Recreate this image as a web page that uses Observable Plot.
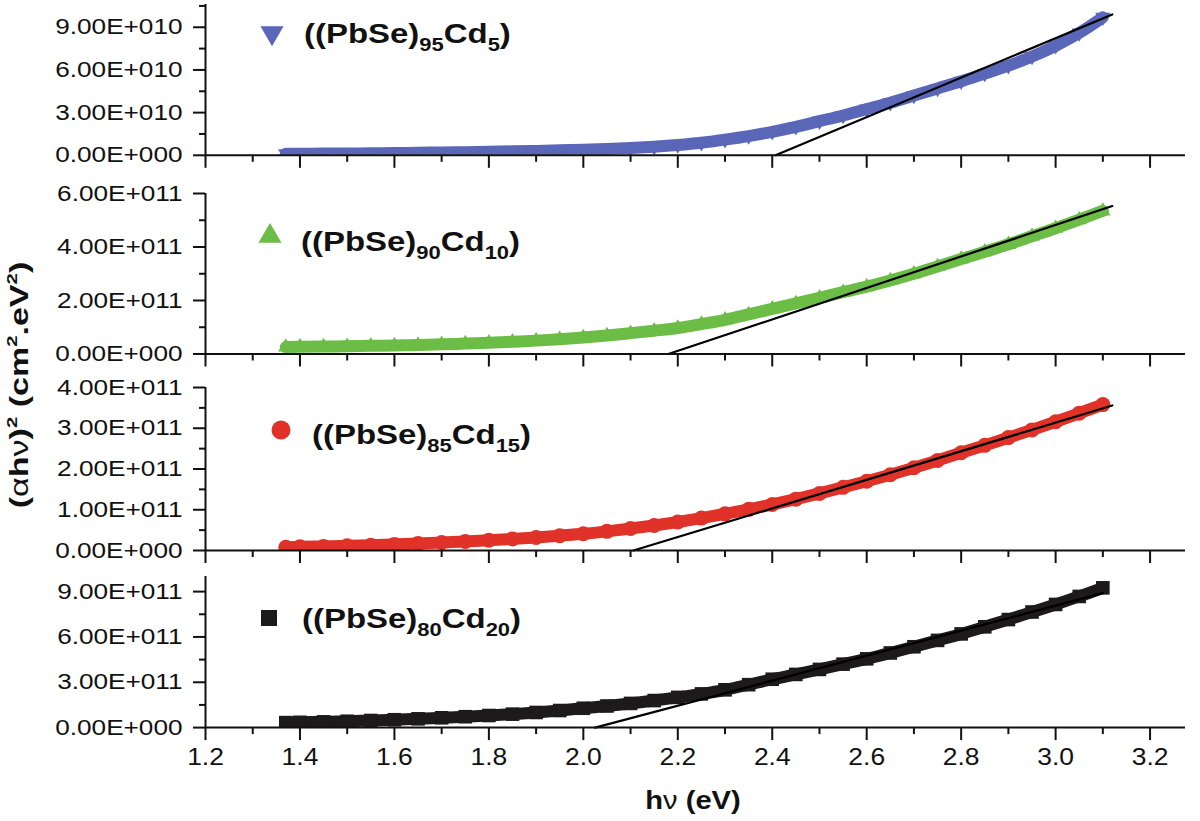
<!DOCTYPE html>
<html><head><meta charset="utf-8">
<script src="https://cdn.jsdelivr.net/npm/d3@7"></script>
<script src="https://cdn.jsdelivr.net/npm/@observablehq/plot@0.6"></script>
<style>
body{margin:0;background:#fff;}
#wrap{position:relative;width:1200px;height:821px;overflow:hidden;font-family:"Liberation Sans",Arial,sans-serif;color:#111;}
.panel{position:absolute;left:0;}
.lsym{position:absolute;}
.ltext{position:absolute;font-weight:bold;font-size:27px;line-height:27px;white-space:nowrap;transform:scaleX(1.22);transform-origin:left center;}
.ltext sub{font-size:18px;line-height:0;vertical-align:-8px;}
.ytitle{position:absolute;left:19px;top:385px;transform:translate(-50%,-50%) rotate(-90deg) scaleX(1.36);font-weight:bold;font-size:25px;white-space:nowrap;}
.ytitle sup{font-size:15px;line-height:0;vertical-align:11px;}
.xtitle{position:absolute;left:693px;top:800px;transform:translate(-50%,-50%) scaleX(1.12);font-weight:bold;font-size:26px;white-space:nowrap;}
.nb{font-weight:normal;}
</style></head><body><div id="wrap"></div><script>
// photon energy hν (eV)
const hv = [1.37,1.40,1.45,1.50,1.55,1.60,1.65,1.70,1.75,1.80,1.85,1.90,1.95,2.00,2.05,2.10,2.15,2.20,2.25,2.30,2.35,2.40,2.45,2.50,2.55,2.60,2.65,2.70,2.75,2.80,2.85,2.90,2.95,3.00,3.05,3.10];
// (αhν)² in units of 1e9 cm^-2 eV^2
const cd5  = [1.0,1.1,1.2,1.3,1.4,1.6,1.8,2.0,2.2,2.5,2.8,3.1,3.5,3.9,4.4,5.1,6.0,7.2,8.8,11.0,13.5,16.5,20.0,24.0,28.0,32.5,37.0,42.0,47.0,52.0,57.5,63.0,69.5,77.0,86.0,97.0];
const cd10 = [26,27,28,29,30.5,32,34,36,39,42,46,50,55.5,62,69.5,78,87,97,112,128,148,169,189,210,231,252,275,300,327,355,382,410,440,470,502,535];
const cd15 = [8,9,10,11.5,13,15,17,19.5,22,25,28.5,32,36.5,41,47,54,61.5,70,79.5,90,101,113,126,140,155,170,186,203,221,240,258,277,296,316,337,358];
const cd20 = [33,35,38,42,47,52,58,65,72,80,89,100,113,128,143,160,179,200,223,250,284,320,352,385,420,455,494,535,577,620,667,715,765,815,868,925];
// linear fits (Tauc extrapolation)
const fitStart = [2.407, 2.18, 2.106, 2.025];
const fitEnd = [3.12, 3.12, 3.12, 3.10];
const fitEndValue = [99, 553, 356, 890];
// axes
const xMajor = [1.2,1.4,1.6,1.8,2.0,2.2,2.4,2.6,2.8,3.0,3.2];
const xMinor = [1.3,1.5,1.7,1.9,2.1,2.3,2.5,2.7,2.9,3.1];
const xLabels = ["1.2","1.4","1.6","1.8","2.0","2.2","2.4","2.6","2.8","3.0","3.2"];
const y1Ticks = [0,30,60,90], y1Minor = [15,45,75,105], y1Labels = ["0.00E+000","3.00E+010","6.00E+010","9.00E+010"];
const y2Ticks = [0,200,400,600], y2Minor = [100,300,500], y2Labels = ["0.00E+000","2.00E+011","4.00E+011","6.00E+011"];
const y3Ticks = [0,100,200,300,400], y3Minor = [50,150,250,350], y3Labels = ["0.00E+000","1.00E+011","2.00E+011","3.00E+011","4.00E+011"];
const y4Ticks = [0,300,600,900], y4Minor = [150,450,750], y4Labels = ["0.00E+000","3.00E+011","6.00E+011","9.00E+011"];
const seriesNames = [["95","5"],["90","10"],["85","15"],["80","20"]];
const colors = ["#5a67b8","#6bbd45","#e03228","#1c1a1a"];

const triDown = {draw(ctx, size){const r=Math.sqrt(size/Math.PI);ctx.moveTo(-1.1*r,-0.65*r);ctx.lineTo(1.1*r,-0.65*r);ctx.lineTo(0,1.25*r);ctx.closePath();}};
const triUp = {draw(ctx, size){const r=Math.sqrt(size/Math.PI);ctx.moveTo(-1.1*r,0.65*r);ctx.lineTo(1.1*r,0.65*r);ctx.lineTo(0,-1.25*r);ctx.closePath();}};
const circ = d3.symbolCircle;
const sq = {draw(ctx, size){const r=Math.sqrt(size/Math.PI);ctx.rect(-r,-r,2*r,2*r);}};

const panels = [
  {vals:cd5,  max:106,  top:4.2,   zero:155, ticks:y1Ticks, minor:y1Minor, labels:y1Labels, sym:triDown, r:7,   lr:10.5, legendSym:{x:272,y:33},  legendText:{x:304,y:34}},
  {vals:cd10, max:600,  top:192.5, zero:353, ticks:y2Ticks, minor:y2Minor, labels:y2Labels, sym:triUp,   r:7,   lr:10.5, legendSym:{x:270,y:236}, legendText:{x:301,y:242}},
  {vals:cd15, max:400,  top:387,   zero:550, ticks:y3Ticks, minor:y3Minor, labels:y3Labels, sym:circ,    r:7.5, lr:9.5,  legendSym:{x:281,y:430}, legendText:{x:312,y:435}},
  {vals:cd20, max:1000, top:575.9, zero:727, ticks:y4Ticks, minor:y4Minor, labels:y4Labels, sym:sq,      r:6.8, lr:8,    legendSym:{x:269,y:618}, legendText:{x:302,y:619}}
];

const wrap = document.getElementById("wrap");
const font = '"Liberation Sans", Arial, sans-serif';

panels.forEach((p, k) => {
  const isBottom = k === 3;
  const rows = hv.map((x, i) => ({hv: x, v: p.vals[i]}));
  const fitRows = [{hv: fitStart[k], v: 0}, {hv: fitEnd[k], v: fitEndValue[k]}];
  const mt = 12, mb = isBottom ? 94 : 16;
  const lab = new Map(p.ticks.map((t, i) => [t, p.labels[i]]));
  const xl = new Map(xMajor.map((t, i) => [t, xLabels[i]]));
  const chart = Plot.plot({
    width: 1200,
    height: (p.zero - p.top) + mt + mb,
    marginLeft: 205, marginRight: 15, marginTop: mt, marginBottom: mb,
    x: {domain: [1.2, 3.275]},
    y: {domain: [0, p.max]},
    style: {fontFamily: font, background: "transparent", color: "#111", overflow: "visible"},
    marks: [
      Plot.line(rows, {x: "hv", y: "v", stroke: colors[k], strokeWidth: 12, curve: "monotone-x", clip: true}),
      Plot.dot(rows, {x: "hv", y: "v", symbol: () => p.sym, r: p.r, fill: colors[k], stroke: "none", clip: true}),
      Plot.line(fitRows, {x: "hv", y: "v", stroke: "#000", strokeWidth: 2.2}),
      Plot.ruleY([0], {stroke: "#111", strokeWidth: 2}),
      Plot.ruleX([1.2], {stroke: "#111", strokeWidth: 2}),
      Plot.axisX({ticks: xMajor, tickSize: 13, tickPadding: 8, strokeWidth: 2, fontSize: 23, label: null,
                  tickFormat: d => isBottom ? xl.get(d) : ""}),
      Plot.axisX({ticks: xMinor, tickSize: 7, strokeWidth: 2, label: null, tickFormat: () => ""}),
      Plot.axisY({ticks: p.ticks, tickSize: 12, tickPadding: 11, strokeWidth: 2, fontSize: 22, label: null,
                  tickFormat: d => lab.get(d)}),
      Plot.axisY({ticks: p.minor, tickSize: 6, strokeWidth: 2, label: null, tickFormat: () => ""})
    ]
  });
  chart.classList.add("panel");
  chart.style.top = (p.top - mt) + "px";
  wrap.appendChild(chart);
  chart.querySelectorAll("text").forEach(t => {
    const L = t.getComputedTextLength();
    if (L > 0) {
      const s = t.closest('g[aria-label="x-axis tick label"]') ? 1.15 : 1.19;
      t.setAttribute("textLength", L * s);
      t.setAttribute("lengthAdjust", "spacingAndGlyphs");
    }
  });

  // legend
  const ls = document.createElementNS("http://www.w3.org/2000/svg", "svg");
  ls.setAttribute("width", 34); ls.setAttribute("height", 34);
  ls.setAttribute("class", "lsym");
  ls.style.left = (p.legendSym.x - 17) + "px";
  ls.style.top = (p.legendSym.y - 17) + "px";
  const path = document.createElementNS("http://www.w3.org/2000/svg", "path");
  path.setAttribute("d", d3.symbol(p.sym, Math.PI * p.lr ** 2)());
  path.setAttribute("transform", "translate(17,17)");
  path.setAttribute("fill", colors[k]);
  ls.appendChild(path);
  wrap.appendChild(ls);
  const lt = document.createElement("div");
  lt.className = "ltext";
  lt.style.left = p.legendText.x + "px";
  lt.style.top = (p.legendText.y - 13.5) + "px";
  lt.innerHTML = `((PbSe)<sub>${seriesNames[k][0]}</sub>Cd<sub>${seriesNames[k][1]}</sub>)`;
  wrap.appendChild(lt);
});

const yt = document.createElement("div");
yt.className = "ytitle";
yt.innerHTML = '(<span class="nb">α</span>h<span class="nb">ν</span>)<sup>2</sup> (cm<sup>2</sup>.eV<sup>2</sup>)';
wrap.appendChild(yt);
const xt = document.createElement("div");
xt.className = "xtitle";
xt.innerHTML = 'h<span class="nb">ν</span> (eV)';
wrap.appendChild(xt);
</script></body></html>
